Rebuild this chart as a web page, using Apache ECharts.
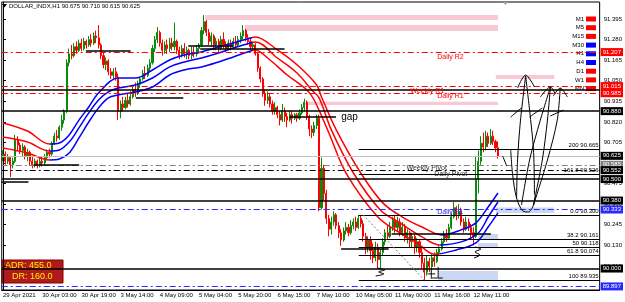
<!DOCTYPE html>
<html>
<head>
<meta charset="utf-8">
<script src="https://cdn.jsdelivr.net/npm/echarts@6/dist/echarts.min.js"></script>
<style>
  html, body { margin: 0; padding: 0; background: #fff; }
  #chart { width: 625px; height: 302px; }
</style>
</head>
<body>
<div id="chart"></div>
<script>
// ---- data ----
var timeLabels = ['29 Apr 2021', '30 Apr 03:00', '30 Apr 19:00', '3 May 14:00', '4 May 09:00',
  '5 May 04:00', '5 May 20:00', '6 May 15:00', '7 May 10:00', '10 May 05:00',
  '11 May 00:00', '11 May 16:00', '12 May 11:00'];
var barsPerLabel = 16;
var slots = 244; // visible bar slots, the right part is chart shift

// H1 candles: [open, close, low, high]
var candles = [
  [90.620,90.640,90.600,90.660],[90.640,90.600,90.580,90.655],[90.600,90.620,90.585,90.640],[90.620,90.580,90.512,90.630],
  [90.580,90.600,90.560,90.620],[90.600,90.720,90.590,90.747],[90.720,90.690,90.660,90.740],[90.690,90.660,90.640,90.705],
  [90.660,90.680,90.630,90.700],[90.680,90.630,90.610,90.690],[90.630,90.650,90.600,90.670],[90.650,90.600,90.575,90.660],
  [90.600,90.580,90.560,90.625],[90.580,90.600,90.565,90.615],[90.600,90.575,90.560,90.610],[90.575,90.600,90.565,90.620],
  [90.600,90.590,90.570,90.625],[90.590,90.620,90.580,90.640],[90.620,90.650,90.605,90.665],[90.650,90.640,90.620,90.670],
  [90.640,90.700,90.630,90.710],[90.700,90.740,90.690,90.760],[90.740,90.730,90.710,90.775],[90.730,90.790,90.720,90.800],
  [90.790,90.830,90.770,90.860],[90.830,90.880,90.810,90.890],[90.880,91.150,90.870,91.170],[91.150,91.200,91.130,91.230],
  [91.200,91.190,91.170,91.250],[91.190,91.240,91.180,91.260],[91.240,91.220,91.200,91.270],[91.220,91.260,91.210,91.280],
  [91.260,91.230,91.215,91.285],[91.230,91.270,91.220,91.290],[91.270,91.250,91.230,91.280],[91.250,91.280,91.240,91.300],
  [91.280,91.260,91.240,91.310],[91.260,91.300,91.250,91.320],[91.300,91.290,91.260,91.330],[91.290,91.250,91.230,91.361],
  [91.250,91.190,91.170,91.260],[91.190,91.140,91.120,91.210],[91.140,91.160,91.110,91.180],[91.160,91.100,91.080,91.170],
  [91.100,91.080,91.060,91.120],[91.080,91.100,91.060,91.120],[91.100,91.070,91.050,91.125],[91.070,90.880,90.830,91.090],
  [90.880,90.920,90.840,90.940],[90.920,90.900,90.880,90.960],[90.900,90.940,90.890,90.960],[90.940,90.920,90.900,90.980],
  [90.920,90.960,90.910,90.990],[90.960,91.000,90.950,91.020],[91.000,90.980,90.960,91.040],[90.980,91.030,90.970,91.050],
  [91.030,91.060,91.010,91.070],[91.060,91.090,91.050,91.110],[91.090,91.080,91.060,91.130],[91.080,91.120,91.070,91.140],
  [91.120,91.150,91.100,91.170],[91.150,91.230,91.140,91.250],[91.230,91.280,91.210,91.300],[91.280,91.320,91.260,91.350],
  [91.320,91.260,91.240,91.330],[91.260,91.220,91.190,91.280],[91.220,91.250,91.200,91.270],[91.250,91.230,91.200,91.280],
  [91.230,91.260,91.210,91.290],[91.260,91.240,91.220,91.290],[91.240,91.270,91.220,91.375],[91.270,91.220,91.200,91.280],
  [91.220,91.190,91.170,91.240],[91.190,91.230,91.180,91.250],[91.230,91.200,91.180,91.260],[91.200,91.220,91.170,91.240],
  [91.220,91.190,91.170,91.230],[91.190,91.210,91.170,91.240],[91.210,91.200,91.180,91.240],[91.200,91.230,91.185,91.250],
  [91.230,91.250,91.210,91.260],[91.250,91.330,91.240,91.350],[91.330,91.380,91.310,91.417],[91.380,91.320,91.300,91.390],
  [91.320,91.270,91.250,91.340],[91.270,91.300,91.240,91.320],[91.300,91.250,91.220,91.310],[91.250,91.270,91.220,91.290],
  [91.270,91.230,91.210,91.285],[91.230,91.280,91.220,91.300],[91.280,91.250,91.230,91.320],[91.250,91.230,91.210,91.270],
  [91.230,91.260,91.220,91.280],[91.260,91.240,91.220,91.280],[91.240,91.270,91.230,91.290],[91.270,91.250,91.230,91.300],
  [91.250,91.280,91.240,91.300],[91.280,91.300,91.260,91.320],[91.300,91.330,91.280,91.361],[91.330,91.290,91.270,91.340],
  [91.290,91.270,91.250,91.310],[91.270,91.240,91.220,91.290],[91.240,91.250,91.220,91.270],[91.250,91.200,91.190,91.260],
  [91.200,91.120,91.100,91.210],[91.120,91.060,91.040,91.130],[91.060,90.980,90.960,91.070],[90.980,90.940,90.910,91.000],
  [90.940,90.960,90.920,90.990],[90.960,90.920,90.900,90.980],[90.920,90.880,90.860,90.940],[90.880,90.900,90.860,90.930],
  [90.900,90.860,90.840,90.910],[90.860,90.830,90.800,90.880],[90.830,90.880,90.820,90.920],[90.880,90.850,90.820,90.900],
  [90.850,90.830,90.790,90.870],[90.830,90.860,90.820,90.880],[90.860,90.840,90.810,90.880],[90.840,90.860,90.830,90.870],
  [90.860,90.840,90.820,90.870],[90.840,90.870,90.830,90.890],[90.870,90.900,90.860,90.920],[90.900,90.930,90.880,90.950],
  [90.930,90.850,90.830,90.940],[90.850,90.780,90.740,90.860],[90.780,90.760,90.730,90.800],[90.760,90.800,90.740,90.820],
  [90.800,90.840,90.780,90.860],[90.840,90.340,90.320,90.860],[90.340,90.560,90.330,90.620],[90.560,90.420,90.380,90.580],
  [90.420,90.280,90.250,90.440],[90.280,90.220,90.180,90.300],[90.220,90.260,90.190,90.290],[90.260,90.300,90.240,90.320],
  [90.300,90.240,90.220,90.310],[90.240,90.200,90.170,90.260],[90.200,90.160,90.127,90.220],[90.160,90.210,90.150,90.230],
  [90.210,90.230,90.190,90.260],[90.230,90.200,90.180,90.250],[90.200,90.240,90.190,90.270],[90.240,90.260,90.220,90.280],
  [90.260,90.230,90.210,90.290],[90.230,90.280,90.220,90.300],[90.280,90.250,90.230,90.300],[90.250,90.180,90.150,90.270],
  [90.180,90.120,90.080,90.200],[90.120,90.160,90.090,90.180],[90.160,90.100,90.050,90.180],[90.100,90.060,90.030,90.140],
  [90.060,90.120,90.040,90.150],[90.120,90.050,90.000,90.140],[90.050,90.090,89.990,90.110],[90.090,90.150,90.070,90.170],
  [90.150,90.200,90.130,90.220],[90.200,90.180,90.160,90.240],[90.180,90.230,90.170,90.260],[90.230,90.270,90.210,90.290],
  [90.270,90.230,90.200,90.300],[90.230,90.260,90.210,90.290],[90.260,90.200,90.180,90.280],[90.200,90.230,90.180,90.260],
  [90.230,90.170,90.150,90.250],[90.170,90.200,90.140,90.220],[90.200,90.150,90.120,90.210],[90.150,90.180,90.120,90.200],
  [90.180,90.120,90.080,90.190],[90.120,90.150,90.090,90.170],[90.150,90.090,90.060,90.160],[90.090,90.030,90.000,90.120],
  [90.030,89.980,89.935,90.060],[89.980,90.040,89.960,90.070],[90.040,90.010,89.980,90.060],[90.010,90.060,89.990,90.080],
  [90.060,90.040,90.010,90.090],[90.040,90.090,90.030,90.110],[90.090,90.110,90.070,90.130],[90.110,90.150,90.100,90.170],
  [90.150,90.190,90.140,90.210],[90.190,90.170,90.150,90.220],[90.170,90.230,90.160,90.250],[90.230,90.290,90.220,90.310],
  [90.290,90.340,90.280,90.372],[90.340,90.300,90.270,90.350],[90.300,90.320,90.280,90.360],[90.320,90.260,90.240,90.340],
  [90.260,90.220,90.200,90.280],[90.220,90.260,90.210,90.290],[90.260,90.230,90.210,90.280],[90.230,90.200,90.170,90.250],
  [90.200,90.180,90.130,90.230],[90.180,90.500,90.170,90.630],[90.500,90.600,90.420,90.660],[90.600,90.700,90.580,90.740],
  [90.700,90.680,90.650,90.760],[90.680,90.740,90.660,90.770],[90.740,90.700,90.680,90.760],[90.700,90.740,90.690,90.780],
  [90.740,90.710,90.690,90.770],[90.710,90.675,90.650,90.720],[90.675,90.625,90.615,90.710]
];

// three-line moving average band, [bar, price]
var maUpper = [[0,90.814],[10,90.769],[19,90.696],[23,90.702],[27,90.747],[31,90.830],[35,90.903],[39,90.981],
  [47,91.065],[54,91.065],[61,91.110],[68,91.166],[74,91.194],[81,91.211],[88,91.238],[94,91.261],[101,91.289],
  [103,91.295],[112,91.222],[121,91.127],[128,91.026],[130,90.959],[136,90.775],[146,90.534],[155,90.367],
  [163,90.288],[171,90.232],[179,90.188],[187,90.216],[193,90.255],[198,90.344],[202,90.422]];
var maMid = [[0,90.735],[10,90.707],[19,90.657],[23,90.663],[27,90.707],[31,90.786],[35,90.870],[39,90.942],
  [43,90.987],[47,91.009],[54,91.026],[61,91.065],[68,91.127],[74,91.155],[81,91.177],[88,91.205],[94,91.233],
  [101,91.261],[103,91.266],[112,91.177],[120,91.093],[126,90.998],[129,90.954],[134,90.775],[143,90.534],
  [154,90.327],[162,90.255],[171,90.177],[178,90.132],[187,90.149],[194,90.199],[198,90.288],[202,90.372]];
var maLower = [[0,90.674],[10,90.646],[19,90.607],[23,90.612],[27,90.646],[31,90.730],[35,90.819],[39,90.898],
  [43,90.954],[47,90.970],[54,90.987],[61,91.015],[68,91.082],[74,91.110],[81,91.127],[88,91.155],[94,91.183],
  [101,91.216],[103,91.222],[108,91.177],[116,91.082],[124,90.998],[127,90.942],[133,90.758],[140,90.534],
  [153,90.288],[162,90.199],[169,90.143],[176,90.080],[185,90.104],[193,90.143],[198,90.232],[202,90.311]];
var maTurns = [19, 101.5, 178.5]; // bars where the band flips red/blue

var priceTicks = [91.395, 91.280, 91.165, 91.050, 90.935, 90.820, 90.705, 90.590, 90.475,
  90.360, 90.245, 90.130, 90.015, 89.900];

var redPivots = [91.207, 91.015, 90.985];
var bluePivots = [90.333, 89.897];
var weeklyPivot = 90.585;
var dailyPivot = 90.552;
var lastPrice = 90.625;
var blackLevels = [90.880, 90.500, 90.380, 90.000];
var plainLevels = [90.998];

var fibFrom = 145.2;
var fibLevels = [['200', 90.665], ['161.8', 90.526], ['0.0', 90.300], ['38.2', 90.161],
  ['50', 90.118], ['61.8', 90.074], ['100', 89.935]];
var fibTrend = [[147, 90.300], [172, 89.935]];

// short horizontal lines: [price, fromBar, toBar]
var shortLines = [[91.219, 33.9, 52.1], [91.246, 75.6, 93.8], [91.226, 80.5, 114.9], [90.953, 54.2, 73.6],
  [90.850, 116.9, 135.9], [90.579, 12.5, 31.1], [90.484, -0.5, 10.4], [90.193, 158.6, 199.1], [90.110, 138, 157.4]];

// zones: [fromBar, toBar, high, low]
var pinkZones = [[82.5, 202, 91.417, 91.389], [98.7, 202, 91.361, 91.328], [201.1, 225, 91.082, 91.060],
  [123.4, 202, 90.933, 90.914]];
var blueZones = [[201.1, 225, 90.341, 90.311], [193.8, 202, 90.193, 90.165], [193.8, 202, 90.143, 90.120],
  [177.6, 202, 89.986, 89.936]];

// text on the chart: [text, bar, price]
var redNotes = [['Daily R2', 177.2, 91.183], ['Weekly R1', 166.3, 90.990], ['Daily R1', 177.2, 90.962]];
var pivotNotes = [['Weekly Pivot', 164.7, 90.562], ['Daily Pivot', 176, 90.526]];
var blueNotes = [['Daily S1', 177.2, 90.313]];
var gapNote = ['gap', 138, 90.847];

// hand drawn marks: lists of [bar, price]
var strokes = [
  [[203.9,90.629],[205.6,90.573]],
  [[207.2,90.663],[208.0,90.523],[209.6,90.394],[212.1,90.322],[214.5,90.316],[216.5,90.355],[217.3,90.411]],
  [[209.6,90.394],[210.0,90.607],[211.2,90.830],[213.3,91.076]],
  [[213.3,91.076],[214.9,90.886],[216.5,90.663],[216.9,90.411]],
  [[211.6,90.355],[214.9,90.607],[219.3,90.830],[223.4,91.015]],
  [[223.4,91.015],[222.2,90.830],[220.1,90.607],[216.5,90.355]],
  [[216.5,90.355],[222.2,90.607],[226.2,90.830],[227.4,91.009]],
  [[210.0,91.009],[213.3,91.082],[216.9,91.015]],
  [[219.3,90.959],[223.4,91.015],[225.4,90.976]],
  [[224.6,90.965],[227.4,91.009],[230.3,90.959]],
  [[207.2,90.847],[211.6,90.898]],
  [[214.9,90.847],[220.1,90.898]],
  [[223.4,90.853],[228.7,90.886]],
  [[192.6,90.121],[195.0,90.109],[192.6,90.093],[194.6,90.076],[192.2,90.059]],
  [[152.9,90.003],[155.8,89.992],[153.3,89.981],[155.4,89.970],[152.1,89.958]],
  [[173.2,89.970],[176.4,89.970]],
  [[174.8,89.998],[174.8,89.942]],
  [[177.6,90.009],[177.6,89.947]],
  [[175.0,89.947],[179.5,89.947]]
];

var titleText = 'DOLLAR_INDX,H1 90.675 90.710 90.615 90.625';
var timeframes = ['M1', 'M5', 'M15', 'M30', 'H1', 'H4', 'D1', 'W1', 'MN'];
var timeframeUp = [false, false, false, true, true, true, false, false, false];
var rangeText = ['ADR: 455.0', 'DR: 160.0'];

// ---- chart ----
var RED = '#ff0000', BLUE = '#0000ff', GREEN = '#0a8a0a';
var dashDot = [6, 3, 2, 3];
var FONT = 'Liberation Sans, Arial, sans-serif';

var categories = [];
for (var i = 0; i < slots; i++) categories.push(String(i));

function boxLabel(text, bg) {
  return { show: true, position: 'end', distance: 1, formatter: text, backgroundColor: bg,
    color: '#fff', fontSize: 6, fontFamily: FONT, padding: [1, 2, 1, 2] };
}
function level(price, style, bg) {
  return { yAxis: price, lineStyle: style, label: bg ? boxLabel(price.toFixed(3), bg) : { show: false } };
}

var markLines = [];
plainLevels.forEach(function (p) { markLines.push(level(p, { color: '#000', width: 1.5, type: 'solid' }, null)); });
redPivots.forEach(function (p) { markLines.push(level(p, { color: RED, width: 1, type: dashDot }, RED)); });
markLines.push(level(lastPrice, { color: '#c0c0c0', width: 1, type: 'solid' }, '#000'));
markLines.push(level(weeklyPivot, { color: '#808080', width: 1, type: dashDot }, '#808080'));
markLines.push(level(dailyPivot, { color: '#000', width: 1, type: dashDot }, '#000'));
blackLevels.forEach(function (p) { markLines.push(level(p, { color: '#000', width: 1.5, type: 'solid' }, '#000')); });
bluePivots.forEach(function (p) { markLines.push(level(p, { color: '#2a2aff', width: 1, type: dashDot }, '#2a2aff')); });
fibLevels.forEach(function (f) {
  markLines.push([
    { coord: [fibFrom, f[1]], lineStyle: { color: '#000', width: 1, type: 'solid' },
      label: { show: true, position: 'insideEndTop', distance: 1, formatter: f[0] + ' ' + f[1].toFixed(3),
        color: '#000', fontSize: 6, fontFamily: FONT } },
    { coord: [slots - 0.5, f[1]] }
  ]);
});
shortLines.forEach(function (s) {
  markLines.push([
    { coord: [s[1], s[0]], lineStyle: { color: '#000', width: 1.5, type: 'solid' }, label: { show: false } },
    { coord: [s[2], s[0]] }
  ]);
});
markLines.push([
  { coord: fibTrend[0], lineStyle: { color: '#808080', width: 1, type: [2, 2] }, label: { show: false } },
  { coord: fibTrend[1] }
]);

var markAreas = [];
pinkZones.forEach(function (z) {
  markAreas.push([{ coord: [z[0], z[2]], itemStyle: { color: '#fac8d3' } }, { coord: [z[1], z[3]] }]);
});
blueZones.forEach(function (z) {
  markAreas.push([{ coord: [z[0], z[2]], itemStyle: { color: '#cad8f4' } }, { coord: [z[1], z[3]] }]);
});

function noteItems(list, color, size) {
  return list.map(function (n) {
    return { value: [n[1], n[2]], label: { show: true, position: 'right', distance: 0, formatter: n[0],
      color: color, fontSize: size, fontFamily: FONT, opacity: 1 } };
  });
}
var notes = noteItems(redNotes, RED, 7)
  .concat(noteItems(pivotNotes, '#303030', 7))
  .concat(noteItems(blueNotes, '#2a2aff', 7))
  .concat(noteItems([gapNote], '#000', 10));

function maSeries(data) {
  return { type: 'line', xAxisIndex: 1, data: data, showSymbol: false, smooth: 0.35, z: 4,
    lineStyle: { width: 1.5 }, silent: true };
}

var series = [
  { type: 'candlestick', data: candles, barWidth: 1.6, z: 3, silent: true,
    itemStyle: { color: GREEN, color0: RED, borderColor: GREEN, borderColor0: RED, borderWidth: 1 } },
  maSeries(maUpper), maSeries(maMid), maSeries(maLower),
  { type: 'line', xAxisIndex: 1, data: [], z: 2, silent: true,
    markLine: { symbol: ['none', 'none'], silent: true, animation: false, data: markLines },
    markArea: { silent: true, animation: false, data: markAreas } },
  { type: 'scatter', xAxisIndex: 1, data: notes, symbolSize: 0, z: 5, silent: true,
    itemStyle: { color: '#fff', opacity: 1 } }
];
strokes.forEach(function (s) {
  series.push({ type: 'line', xAxisIndex: 1, data: s, showSymbol: false, smooth: 0.3, z: 6, silent: true,
    lineStyle: { color: '#000', width: 1 } });
});

var graphic = [
  { type: 'polygon', shape: { points: [[2, 4], [7, 4], [4.5, 7.5]] }, style: { fill: '#000' } },
  { type: 'text', x: 9, y: 6, style: { text: titleText, fontSize: 6, fontFamily: FONT, fill: '#000',
    align: 'left', verticalAlign: 'middle', textAlign: 'left', textVerticalAlign: 'middle' } },
  { type: 'polygon', shape: { points: [[503, 2], [508, 2], [505.5, 5]] }, style: { fill: '#a0a0a0' } },
  { type: 'rect', shape: { x: 2, y: 260, width: 61, height: 23 }, style: { fill: '#b01a1a', stroke: '#800000' } },
  { type: 'text', x: 5, y: 266, style: { text: rangeText[0], fontSize: 9, fontFamily: FONT, fill: '#ffee00',
    align: 'left', verticalAlign: 'middle', textAlign: 'left', textVerticalAlign: 'middle' } },
  { type: 'text', x: 12, y: 277, style: { text: rangeText[1], fontSize: 9, fontFamily: FONT, fill: '#ffee00',
    align: 'left', verticalAlign: 'middle', textAlign: 'left', textVerticalAlign: 'middle' } }
];
timeframes.forEach(function (tf, k) {
  var cy = 19 + k * 8.7;
  graphic.push({ type: 'text', x: 584, y: cy, style: { text: tf, fontSize: 6, fontFamily: FONT, fill: '#000',
    align: 'right', verticalAlign: 'middle', textAlign: 'right', textVerticalAlign: 'middle' } });
  graphic.push({ type: 'rect', shape: { x: 586, y: cy - 2.5, width: 10, height: 5 },
    style: { fill: timeframeUp[k] ? BLUE : RED } });
});

var chart = echarts.init(document.getElementById('chart'), null, { renderer: 'canvas' });
chart.setOption({
  animation: false,
  backgroundColor: '#fff',
  textStyle: { fontFamily: FONT },
  grid: { left: 0, right: 22, top: 2, bottom: 12, show: true, borderColor: '#000', borderWidth: 1 },
  xAxis: [
    { type: 'category', data: categories, boundaryGap: true,
      axisLine: { lineStyle: { color: '#000' } },
      axisTick: { interval: barsPerLabel - 1, alignWithLabel: true, length: 3, lineStyle: { color: '#000' } },
      axisLabel: { interval: barsPerLabel - 1, align: 'left', margin: 2, fontSize: 6, color: '#000',
        formatter: function (v, idx) {
          return idx % barsPerLabel === 0 ? (timeLabels[idx / barsPerLabel] || '') : '';
        } },
      splitLine: { show: false } },
    { type: 'value', min: -0.5, max: slots - 0.5, show: false }
  ],
  yAxis: {
    type: 'value', position: 'right', min: 89.880, max: 91.490,
    axisLine: { show: true, lineStyle: { color: '#000' } },
    axisTick: { show: true, length: 3, customValues: priceTicks, lineStyle: { color: '#000' } },
    axisLabel: { customValues: priceTicks, margin: 4, fontSize: 6, color: '#000',
      formatter: function (v) { return v.toFixed(3); } },
    splitLine: { show: false }
  },
  visualMap: [{
    type: 'piecewise', show: false, seriesIndex: [1, 2, 3], dimension: 0,
    pieces: [
      { lt: maTurns[0], color: RED },
      { gte: maTurns[0], lt: maTurns[1], color: BLUE },
      { gte: maTurns[1], lt: maTurns[2], color: RED },
      { gte: maTurns[2], color: BLUE }
    ]
  }],
  series: series,
  graphic: graphic
});
</script>
</body>
</html>
